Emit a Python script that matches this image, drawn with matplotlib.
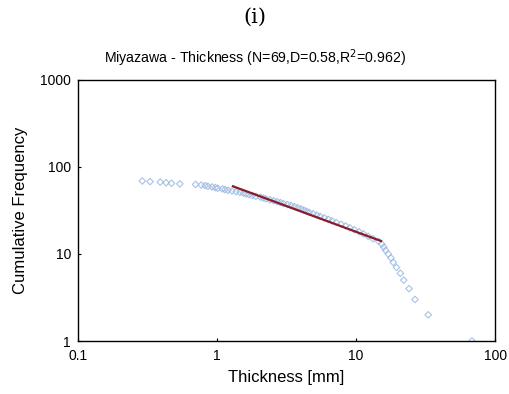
import matplotlib
matplotlib.use("Agg")
import matplotlib.pyplot as plt
from matplotlib.ticker import FixedLocator, FixedFormatter, NullLocator

# Data: cumulative frequency (rank) vs thickness [mm]
cum_freq = list(range(69, 0, -1))
thickness = [
    0.29, 0.33, 0.39, 0.43, 0.47, 0.54,            # 69-64
    0.70, 0.77, 0.82, 0.86, 0.92, 0.97, 1.01,      # 63-57
    1.09, 1.14, 1.20, 1.28, 1.37, 1.46,            # 56-51
    1.55, 1.62, 1.70, 1.80, 1.90, 2.05, 2.15, 2.25, 2.40, 2.55,  # 50-41
    2.70, 2.85, 3.00, 3.20, 3.40, 3.60, 3.80, 4.00, 4.20, 4.40,  # 40-31
    4.60, 4.90, 5.20, 5.50, 5.90, 6.30, 6.70, 7.20, 7.80, 8.40,  # 30-21
    9.00, 9.70, 10.5, 11.3, 12.2, 13.2,            # 20-15
    14.5, 15.3, 15.8, 16.3, 17.0, 17.8, 18.5, 19.5, 20.8, 22.0,  # 14-5
    24.0, 26.5, 33.0, 68.0,                        # 4-1
]
fit_x = [1.3, 15.1]
fit_y = [60.0, 14.1]

x_ticks = [0.1, 1, 10, 100]
x_labels = ["0.1", "1", "10", "100"]
y_ticks = [1, 10, 100, 1000]
y_labels = ["1", "10", "100", "1000"]

plt.rcParams['font.family'] = ['Liberation Sans', 'DejaVu Sans']

fig = plt.figure(figsize=(5.1, 3.94), dpi=100)
ax = fig.add_axes([0.153, 0.1345, 0.818, 0.6625])

ax.scatter(thickness, cum_freq, marker='D', s=11, facecolors='none',
           edgecolors='#9ab8e0', linewidths=0.8, alpha=0.85, zorder=2)
ax.plot(fit_x, fit_y, color='#8b1a2a', lw=1.6, zorder=3)

ax.set_xscale('log')
ax.set_yscale('log')
ax.set_xlim(0.1, 100)
ax.set_ylim(1, 1000)
ax.xaxis.set_major_locator(FixedLocator(x_ticks))
ax.xaxis.set_major_formatter(FixedFormatter(x_labels))
ax.yaxis.set_major_locator(FixedLocator(y_ticks))
ax.yaxis.set_major_formatter(FixedFormatter(y_labels))
ax.xaxis.set_minor_locator(NullLocator())
ax.yaxis.set_minor_locator(NullLocator())
ax.tick_params(direction='in', length=2, width=0.8, labelsize=10)
ax.tick_params(axis='x', pad=6)
ax.tick_params(axis='y', pad=5)
for s in ax.spines.values():
    s.set_linewidth(1.0)

ax.set_xlabel("Thickness [mm]", fontsize=12, labelpad=5)
ax.set_ylabel("Cumulative Frequency", fontsize=12, labelpad=9)

fig.text(0.5, 0.955, "(i)", ha='center', va='center', fontsize=15,
         family=['DejaVu Serif'])
fig.text(0.5, 0.852, r"Miyazawa - Thickness (N=69,D=0.58,R$^{2}$=0.962)",
         ha='center', va='center', fontsize=10.2)

fig.savefig("out.png", dpi=100)
